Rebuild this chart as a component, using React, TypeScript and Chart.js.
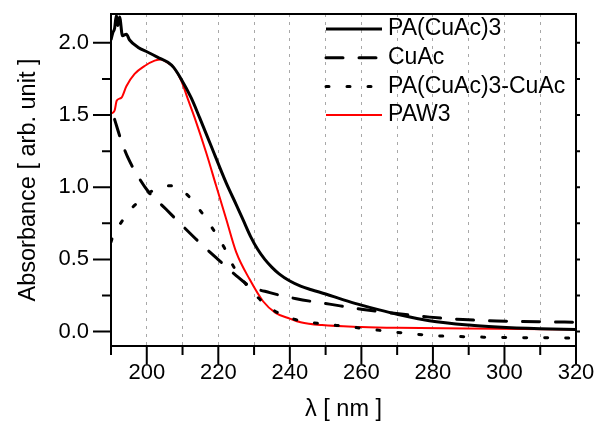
import React, { useEffect, useRef } from 'react';
import { Chart, registerables } from 'chart.js';

Chart.register(...registerables);

// ---- data ----
const paNm = [190, 190.5, 191, 191.5, 191.9, 192.4, 193.2, 194.3, 195.2, 197.5, 200.3, 203.1, 205.9, 207.5, 209.6, 212.4, 214.8, 217.6, 222.2, 225, 227, 229, 231, 233, 235, 237, 240, 243, 246, 250, 255, 259, 265, 270, 279, 290, 298, 310, 320];
const paAbs = [2.02, 2.07, 2.1, 2.19, 2.12, 2.18, 2.05, 2.06, 2.02, 1.97, 1.935, 1.9, 1.865, 1.83, 1.75, 1.62, 1.48, 1.31, 1.03, 0.88, 0.77, 0.66, 0.57, 0.5, 0.445, 0.4, 0.35, 0.315, 0.29, 0.26, 0.22, 0.19, 0.15, 0.12, 0.075, 0.045, 0.032, 0.02, 0.014];

const cuNm = [191, 192.9, 194.7, 197.5, 200.3, 205.4, 210.1, 214.8, 219.9, 224.6, 228.8, 234.4, 241.8, 251.1, 260.5, 269.8, 279.1, 288.4, 297.8, 310, 320];
const cuAbs = [1.47, 1.32, 1.206, 1.078, 0.974, 0.847, 0.73, 0.616, 0.5, 0.396, 0.315, 0.27, 0.227, 0.19, 0.153, 0.125, 0.1, 0.083, 0.074, 0.068, 0.065];

const diffNm = [190, 190.5, 191.9, 193.8, 196, 198, 200.8, 203.6, 206.5, 209.2, 212, 214.3, 218.5, 221.7, 224.5, 228.7, 234.4, 240, 245.5, 256.7, 263.2, 268.8, 274.4, 280, 291.2, 302.4, 314.5, 320];
const diffAbs = [0.62, 0.66, 0.72, 0.79, 0.86, 0.905, 0.963, 0.998, 1.01, 0.99, 0.93, 0.86, 0.71, 0.58, 0.44, 0.3, 0.165, 0.095, 0.065, 0.033, 0.014, -0.002, -0.016, -0.028, -0.037, -0.042, -0.044, -0.045];

const pawNm = [190, 191, 191.6, 192.9, 194.3, 196.6, 199.4, 202.2, 204, 206, 207.5, 209.6, 211.5, 213.4, 216.6, 219.4, 222.2, 225, 228.8, 232.5, 236, 240, 243, 249, 260, 270, 298, 320];
const pawAbs = [1.51, 1.53, 1.6, 1.62, 1.7, 1.785, 1.84, 1.877, 1.885, 1.86, 1.83, 1.74, 1.61, 1.48, 1.24, 1.01, 0.78, 0.55, 0.36, 0.21, 0.13, 0.09, 0.065, 0.045, 0.032, 0.026, 0.019, 0.014];

const seriesLabels = ['PA(CuAc)3', 'CuAc', 'PA(CuAc)3-CuAc', 'PAW3'];

const xTickValues = [190, 200, 210, 220, 230, 240, 250, 260, 270, 280, 290, 300, 310, 320];
const yTickValues = [0, 0.25, 0.5, 0.75, 1.0, 1.25, 1.5, 1.75, 2.0];

const FONT = "'Liberation Sans', Arial, Helvetica, sans-serif";

function pts(xs: number[], ys: number[]) {
  return xs.map((x, i) => ({ x, y: ys[i] }));
}

const isMajorX = (v: number) => Math.round(v) % 20 === 0;
const isMajorY = (v: number) => Math.abs(v * 2 - Math.round(v * 2)) < 1e-6;

export default function App() {
  const ref = useRef<HTMLCanvasElement>(null);

  useEffect(() => {
    if (!ref.current) return;

    const framePlugin = {
      id: 'frameTicksLegend',
      afterDatasetsDraw(chart: any) {
        const { ctx, chartArea: a, scales } = chart;
        const xs = scales.x;
        const ys = scales.y;
        ctx.save();
        ctx.strokeStyle = '#000';
        ctx.lineWidth = 2;
        ctx.setLineDash([]);
        ctx.strokeRect(a.left, a.top, a.right - a.left, a.bottom - a.top);
        ctx.beginPath();
        xTickValues.forEach((v) => {
          const px = xs.getPixelForValue(v);
          ctx.moveTo(px, a.bottom);
          ctx.lineTo(px, a.bottom + (isMajorX(v) ? 18 : 9));
        });
        yTickValues.forEach((v) => {
          const py = ys.getPixelForValue(v);
          ctx.moveTo(a.left, py);
          ctx.lineTo(a.left - (isMajorY(v) ? 18 : 9), py);
          ctx.moveTo(a.right, py);
          ctx.lineTo(a.right + 4, py);
        });
        ctx.stroke();

        // legend
        const ds = chart.data.datasets;
        const lx0 = 326;
        const lx1 = 382;
        const ly0 = 29;
        const dy = 28.7;
        ds.forEach((d: any, i: number) => {
          const y = ly0 + i * dy;
          ctx.beginPath();
          ctx.strokeStyle = d.borderColor;
          ctx.lineWidth = d.borderWidth;
          ctx.lineCap = d.borderCapStyle || 'butt';
          ctx.setLineDash(d.borderDash || []);
          ctx.moveTo(lx0, y);
          ctx.lineTo(lx1, y);
          ctx.stroke();
          ctx.setLineDash([]);
          ctx.fillStyle = '#000';
          ctx.font = `23px ${FONT}`;
          ctx.textBaseline = 'middle';
          ctx.textAlign = 'left';
          ctx.fillText(d.label, 388, y);
        });
        ctx.restore();
      },
    };

    const chart = new Chart(ref.current, {
      type: 'line',
      data: {
        datasets: [
          {
            label: seriesLabels[0],
            data: pts(paNm, paAbs),
            borderColor: '#000000',
            borderWidth: 3,
            pointRadius: 0,
            cubicInterpolationMode: 'monotone',
            borderCapStyle: 'butt',
          },
          {
            label: seriesLabels[1],
            data: pts(cuNm, cuAbs),
            borderColor: '#000000',
            borderWidth: 3,
            borderDash: [17, 16],
            borderCapStyle: 'round',
            pointRadius: 0,
            cubicInterpolationMode: 'monotone',
          },
          {
            label: seriesLabels[2],
            data: pts(diffNm, diffAbs),
            borderColor: '#000000',
            borderWidth: 3,
            borderDash: [3, 18],
            borderCapStyle: 'round',
            pointRadius: 0,
            cubicInterpolationMode: 'monotone',
          },
          {
            label: seriesLabels[3],
            data: pts(pawNm, pawAbs),
            borderColor: '#ff0000',
            borderWidth: 2,
            pointRadius: 0,
            cubicInterpolationMode: 'monotone',
            borderCapStyle: 'butt',
          },
        ],
      },
      options: {
        animation: false,
        responsive: false,
        devicePixelRatio: 1,
        layout: { padding: { top: 14, right: 19, left: 0, bottom: 0 } },
        plugins: {
          legend: { display: false },
          tooltip: { enabled: false },
        },
        scales: {
          x: {
            type: 'linear',
            min: 190,
            max: 320,
            afterBuildTicks: (s: any) => {
              s.ticks = xTickValues.map((v) => ({ value: v }));
            },
            afterFit: (s: any) => {
              s.height = 75;
              s.paddingLeft = 0;
              s.paddingRight = 0;
              s.paddingTop = 0;
              s.paddingBottom = 0;
            },
            ticks: {
              autoSkip: false,
              maxRotation: 0,
              padding: 14,
              color: '#000',
              font: { family: FONT, size: 22 },
              callback: (v: any) => (isMajorX(Number(v)) ? String(v) : ''),
            },
            grid: {
              drawTicks: false,
              lineWidth: 1,
              color: (c: any) => {
                const v = c.tick ? c.tick.value : 0;
                return v === 190 || v === 320 ? 'rgba(0,0,0,0)' : '#a8a8a8';
              },
            },
            border: { display: false, dash: [3, 5] },
            title: {
              display: true,
              text: 'λ [ nm ]',
              color: '#000',
              font: { family: FONT, size: 23.5, lineHeight: 1 },
              padding: 0,
            },
          },
          y: {
            type: 'linear',
            min: -0.1,
            max: 2.2,
            afterBuildTicks: (s: any) => {
              s.ticks = yTickValues.map((v) => ({ value: v }));
            },
            afterFit: (s: any) => {
              s.width = 111;
              s.paddingLeft = 0;
              s.paddingRight = 0;
              s.paddingTop = 0;
              s.paddingBottom = 0;
            },
            ticks: {
              autoSkip: false,
              padding: 22,
              color: '#000',
              font: { family: FONT, size: 22 },
              callback: (v: any) => (isMajorY(Number(v)) ? Number(v).toFixed(1) : ''),
            },
            grid: { display: false, drawTicks: false },
            border: { display: false },
            title: {
              display: true,
              text: 'Absorbance [ arb. unit ]',
              color: '#000',
              font: { family: FONT, size: 23.5, lineHeight: 1 },
              padding: { top: 17, bottom: 0 },
            },
          },
        },
      },
      plugins: [framePlugin],
    } as any);

    return () => chart.destroy();
  }, []);

  return (
    <div style={{ position: 'absolute', left: 0, top: 0, width: 595, height: 421, background: '#fff' }}>
      <canvas ref={ref} width={595} height={421} style={{ display: 'block' }} />
    </div>
  );
}
